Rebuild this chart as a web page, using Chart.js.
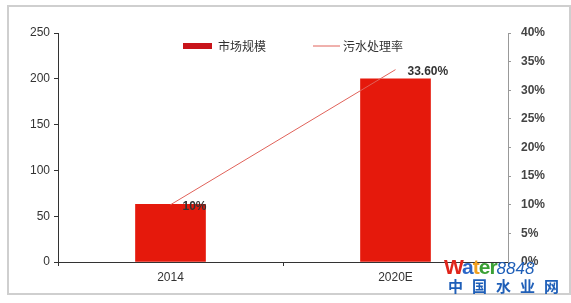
<!DOCTYPE html>
<html>
<head>
<meta charset="utf-8">
<script src="https://cdn.jsdelivr.net/npm/chart.js@4/dist/chart.umd.min.js"></script>
<style>
  html, body { margin: 0; padding: 0; background: #fff; }
  #wrap { position: relative; width: 571px; height: 303px; }
  #grafica { display: block; }
  #frame { position: absolute; left: 7px; top: 5px; width: 560px; height: 286px; border: 2px solid #cfcfcf; }
  #mark { position: absolute; left: 444px; top: 256px; font-family: Arial, sans-serif; line-height: 1; white-space: nowrap; }
  #mark .w { font-size: 21px; font-weight: bold; letter-spacing: -1px; }
  #mark .n { font-size: 17px; font-style: italic; color: #1f5fb8; }
  #mark .cn { display: block; font-family: "Noto Sans CJK SC", sans-serif; font-weight: bold; color: #1f5fb8; font-size: 15px; letter-spacing: 9px; margin-left: 4px; margin-top: 1px; }
</style>
</head>
<body>
<div id="wrap">
  <canvas id="grafica" width="571" height="303"></canvas>
  <div id="frame"></div>
  <div id="mark"><span class="w"><span style="color:#e0251b">W</span><span style="color:#2a66c8">a</span><span style="color:#f0a020">t</span><span style="color:#3aa035">er</span></span><span class="n">8848</span><span class="cn">中国水业网</span></div>
</div>
<script>
// Datos del gráfico
const categorias = ['2014', '2020E'];
const mercado = [63, 200];          // 市场规模
const tasa = [10, 33.6];            // 污水处理率 (%)
const etiquetasTasa = ['10%', '33.60%'];
const nombres = ['市场规模', '污水处理率'];

const rojo = '#e5190c';
const rosa = '#e0625a';

// Leyenda dibujada a mano (va dentro del área del gráfico)
const leyenda = {
    id: 'leyenda',
    afterDraw(chart) {
        const ctx = chart.ctx;
        const c = (chart.chartArea.left + chart.chartArea.right) / 2;
        const y = 46;
        ctx.save();
        ctx.font = '12px "Noto Sans CJK SC", sans-serif';
        ctx.textBaseline = 'middle';
        ctx.fillStyle = '#c8141a';
        ctx.fillRect(c - 100, y - 3, 29, 6);
        ctx.fillStyle = '#333';
        ctx.fillText(nombres[0], c - 65, y);
        ctx.strokeStyle = rosa;
        ctx.lineWidth = 1;
        ctx.beginPath();
        ctx.moveTo(c + 30, y);
        ctx.lineTo(c + 57, y);
        ctx.stroke();
        ctx.fillText(nombres[1], c + 60, y);
        ctx.restore();
    }
};

// Etiquetas de la línea
const etiquetas = {
    id: 'etiquetas',
    afterDatasetsDraw(chart) {
        const ctx = chart.ctx;
        const meta = chart.getDatasetMeta(1);
        ctx.save();
        ctx.font = 'bold 12px Arial, sans-serif';
        ctx.fillStyle = '#333';
        ctx.textBaseline = 'middle';
        meta.data.forEach((p, i) => {
            ctx.fillText(etiquetasTasa[i], p.x + 12, p.y + 2);
        });
        ctx.restore();
    }
};

const ctx = document.getElementById('grafica').getContext('2d');

new Chart(ctx, {
    type: 'bar',
    data: {
        labels: categorias,
        datasets: [{
            type: 'bar',
            label: nombres[0],
            data: mercado,
            backgroundColor: rojo,
            barThickness: 70,
            yAxisID: 'y',
            order: 1
        }, {
            type: 'line',
            label: nombres[1],
            data: tasa,
            borderColor: rosa,
            borderWidth: 1,
            pointRadius: 0,
            yAxisID: 'y1',
            order: 0
        }]
    },
    options: {
        responsive: false,
        animation: false,
        layout: { padding: { top: 33, left: 0, right: 0, bottom: 0 } },
        plugins: {
            legend: { display: false },
            tooltip: { enabled: false }
        },
        scales: {
            x: {
                offset: true,
                grid: { offset: true, drawOnChartArea: false, tickLength: 4, color: '#333' },
                border: { color: '#333', width: 1 },
                ticks: { color: '#333', font: { family: 'Arial', size: 12 }, padding: 4 },
                afterFit(s) { s.height = 41; }
            },
            y: {
                position: 'left',
                min: 0, max: 250,
                ticks: { stepSize: 50, color: '#333', font: { family: 'Arial', size: 12 }, padding: 4 },
                grid: { drawOnChartArea: false, tickLength: 4, color: '#333' },
                border: { color: '#333', width: 1 },
                afterFit(s) { s.width = 58; }
            },
            y1: {
                position: 'right',
                min: 0, max: 40,
                ticks: {
                    stepSize: 5, color: '#444', padding: 10,
                    font: { family: 'Arial', size: 12, weight: 'bold' },
                    callback: v => v + '%'
                },
                grid: { drawOnChartArea: false, tickLength: 3, color: '#999' },
                border: { color: '#999', width: 1 },
                afterFit(s) { s.width = 63; }
            }
        }
    },
    plugins: [leyenda, etiquetas]
});
</script>
</body>
</html>
